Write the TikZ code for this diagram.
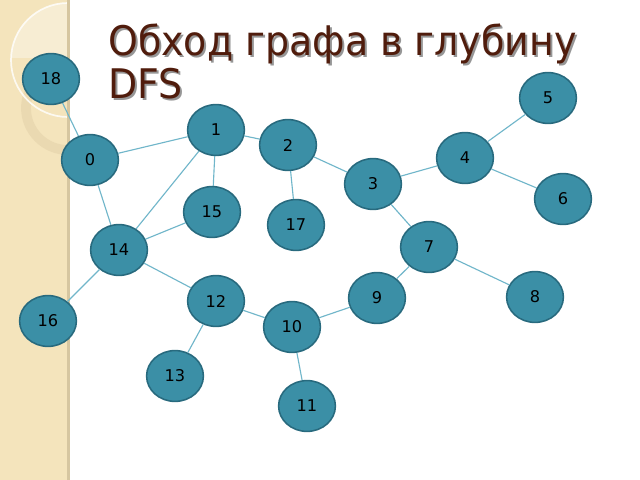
\documentclass[tikz,border=0pt]{standalone}
\usepackage{fontspec}
\setmainfont{DejaVu Sans}
\newfontfamily\titlefont[FakeStretch=0.93]{DejaVu Sans}
\usetikzlibrary{shapes}

\definecolor{stripbeige}{RGB}{244,228,188}
\definecolor{stripedge}{RGB}{214,198,160}
\definecolor{ringbeige}{RGB}{226,208,168}
\definecolor{titlebrown}{RGB}{80,28,12}
\definecolor{titleshadow}{RGB}{150,150,150}
\definecolor{vertexfill}{RGB}{59,143,166}
\definecolor{vertexline}{RGB}{40,106,126}
\definecolor{edgeblue}{RGB}{112,182,202}

\tikzset{
	vertex/.style={ellipse, draw=vertexline, line width=1.1pt, fill=vertexfill,
		minimum width=1.42cm, minimum height=1.27cm, inner sep=0pt,
		font=\fontsize{11.5}{14}\selectfont, text=black},
	link/.style={draw=edgeblue, line width=0.8pt},
	titletext/.style={anchor=base west, inner sep=0pt, font=\titlefont\fontsize{29}{36}\selectfont}
}

\begin{document}
\begin{tikzpicture}[x=0.025cm, y=-0.025cm]
		\useasboundingbox (0,0) rectangle (640,480);
		\fill[white] (0,0) rectangle (640,480);
		\fill[stripbeige] (0,0) rectangle (68,480);
		\begin{scope}
		  \clip (0,0) rectangle (68,57);
		  \fill[white, opacity=0.35] (68,60) circle (57);
		\end{scope}
		\begin{scope}
		  \clip (0,0) rectangle (68,480);
		  \draw[ringbeige, line width=7pt, opacity=0.5] (68,108) circle (42);
		  \draw[white, line width=1.2pt, opacity=0.8] (68,60) circle (57);
		\end{scope}
		\fill[stripedge] (67,0) rectangle (70,480);

		\node[titletext, text=titleshadow] (titleshadow) at (110,57) {Обход графа в глубину};
		\node[titletext, text=titlebrown] (title) at (108,55) {Обход графа в глубину};
		\node[titletext, text=titleshadow] (dfsshadow) at (110,100) {DFS};
		\node[titletext, text=titlebrown] (dfs) at (108,98) {DFS};

		\node[vertex] (v0) at (90,160) {0};
		\node[vertex] (v1) at (216,130) {1};
		\node[vertex] (v2) at (288,145) {2};
		\node[vertex] (v3) at (373,184) {3};
		\node[vertex] (v4) at (465,158) {4};
		\node[vertex] (v5) at (548,98) {5};
		\node[vertex] (v6) at (563,199) {6};
		\node[vertex] (v7) at (429,247) {7};
		\node[vertex] (v8) at (535,297) {8};
		\node[vertex] (v9) at (377,298) {9};
		\node[vertex] (v10) at (292,327) {10};
		\node[vertex] (v11) at (307,406) {11};
		\node[vertex] (v12) at (216,301) {12};
		\node[vertex] (v13) at (175,376) {13};
		\node[vertex] (v14) at (119,250) {14};
		\node[vertex] (v15) at (212,212) {15};
		\node[vertex] (v16) at (48,321) {16};
		\node[vertex] (v17) at (296,225) {17};
		\node[vertex] (v18) at (51,79) {18};

		\foreach \a/\b in {18/0, 0/1, 0/14, 1/2, 1/15, 1/14, 15/14, 2/17, 2/3, 3/4, 4/5, 4/6,
		  3/7, 7/8, 7/9, 9/10, 14/12, 12/10, 12/13, 10/11, 14/16}
		  \draw[link] (v\a) -- (v\b);
\end{tikzpicture}
\end{document}
